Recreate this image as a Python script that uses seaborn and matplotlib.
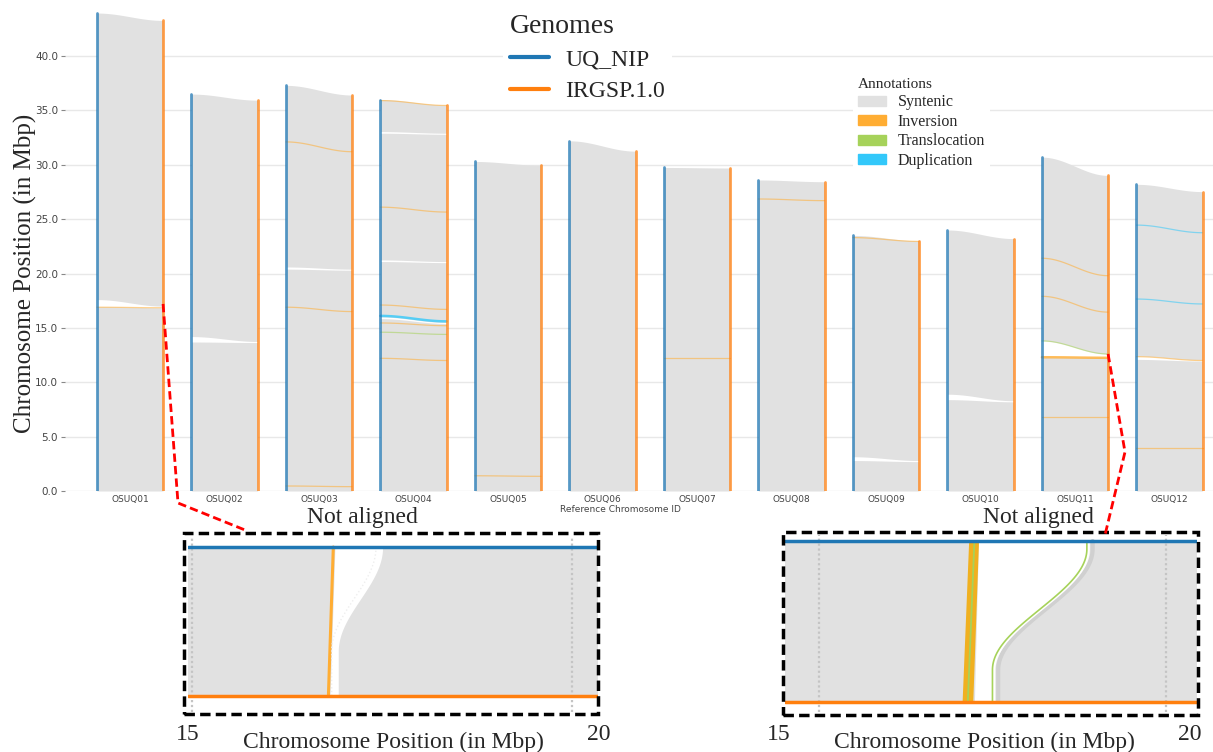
import numpy as np
import pandas as pd
import matplotlib
matplotlib.use("Agg")
import matplotlib.pyplot as plt
from matplotlib.lines import Line2D
from matplotlib.patches import Patch, Rectangle
from matplotlib.transforms import blended_transform_factory
import seaborn as sns

# ---------------------------------------------------------------- data
CHROMS = ["OSUQ01", "OSUQ02", "OSUQ03", "OSUQ04", "OSUQ05", "OSUQ06",
          "OSUQ07", "OSUQ08", "OSUQ09", "OSUQ10", "OSUQ11", "OSUQ12"]
UQ_LEN = [43.95, 36.5, 37.3, 36.0, 30.3, 32.2, 29.75, 28.6, 23.5, 24.0, 30.7, 28.2]
IR_LEN = [43.27, 35.94, 36.41, 35.50, 29.96, 31.25, 29.70, 28.44, 23.01, 23.21, 29.02, 27.53]
Y_TICKS = [0, 5, 10, 15, 20, 25, 30, 35, 40]

# structural variant links: chromosome index, UQ_NIP pos, IRGSP pos (Mbp), type
LINK_CHR = [0, 2, 2, 2, 3, 3, 3, 3, 3, 3, 3, 4, 6, 7, 8,
            10, 10, 10, 10, 10, 11, 11, 11, 11]
LINK_UQ = [16.9, 32.1, 16.9, 0.46, 35.9, 26.1, 17.1, 16.1, 15.45, 14.6, 12.2, 1.4, 12.2, 26.85, 23.3,
           21.4, 17.9, 13.8, 12.3, 6.8, 24.45, 17.65, 12.35, 3.95]
LINK_IR = [16.85, 31.2, 16.5, 0.4, 35.45, 25.65, 16.7, 15.6, 15.2, 14.4, 12.0, 1.35, 12.2, 26.7, 22.95,
           19.8, 16.45, 12.6, 12.25, 6.8, 23.75, 17.2, 12.0, 3.95]
LINK_TYPE = ["Inversion", "Inversion", "Inversion", "Inversion", "Inversion", "Inversion",
             "Inversion", "Duplication", "Inversion", "Translocation", "Inversion", "Inversion",
             "Inversion", "Inversion", "Inversion", "Inversion", "Inversion", "Translocation",
             "Inversion", "Inversion", "Duplication", "Duplication", "Inversion", "Inversion"]

# not aligned regions: chromosome index, UQ_NIP lo/hi, IRGSP lo/hi (Mbp)
GAP_CHR = [0, 1, 2, 3, 3, 3, 8, 9, 10, 11]
GAP_UQ_LO = [16.95, 13.7, 20.4, 32.9, 21.1, 15.85, 2.8, 8.4, 12.3, 12.1]
GAP_UQ_HI = [17.6, 14.2, 20.6, 33.05, 21.25, 16.0, 3.15, 8.9, 13.8, 12.4]
GAP_IR_LO = [16.85, 13.65, 20.3, 32.8, 21.0, 15.4, 2.7, 8.2, 12.3, 11.95]
GAP_IR_HI = [17.0, 13.75, 20.4, 32.9, 21.1, 15.5, 2.8, 8.3, 12.6, 12.05]

# zoomed panels (15-20 Mbp), edges given as (top = UQ_NIP, bottom = IRGSP)
ZOOM_TICKS = [15, 20]
Z1_GAP_LEFT = (16.79, 16.73)
Z1_GAP_RIGHT = (17.37, 16.83)
Z1_INV = (16.77, 16.71)
Z1_GRID = [15.05, 19.68]
Z2_GAP_LEFT = (17.43, 17.38)
Z2_GAP_RIGHT = (18.78, 17.63)
Z2_BAND = (17.31, 17.43, 17.23, 17.36)
Z2_GRID = [15.49, 19.71]

GENOME_COLORS = {"UQ_NIP": "#1f77b4", "IRGSP.1.0": "#ff7f0e"}
ANNOT_COLORS = {"Syntenic": "#e1e1e1", "Inversion": "#ffad33",
                "Translocation": "#a6d25a", "Duplication": "#33c8fa"}
SERIF = "Liberation Serif"

W, H = 1213, 752
HALF = 0.35


def smooth(u):
    u = np.clip(u, 0, 1)
    return 0.5 - 0.5 * np.cos(np.pi * u)


def fig_box(left, top, right, bottom):
    return [left / W, 1 - bottom / H, (right - left) / W, (bottom - top) / H]


sns.set_theme(style="whitegrid")
plt.rcParams["font.family"] = ["DejaVu Sans"]
fig = plt.figure(figsize=(W / 100, H / 100), dpi=100)

# ---------------------------------------------------------------- main plot
ax = fig.add_axes(fig_box(65, 8, 1213, 491))
u = np.linspace(0, 1, 80)

for i in range(len(CHROMS)):
    xs = i - HALF + 2 * HALF * u
    top = UQ_LEN[i] + (IR_LEN[i] - UQ_LEN[i]) * smooth(u)
    ax.fill_between(xs, 0, top, color=ANNOT_COLORS["Syntenic"], lw=0, zorder=1)

for c, lo1, hi1, lo2, hi2 in zip(GAP_CHR, GAP_UQ_LO, GAP_UQ_HI, GAP_IR_LO, GAP_IR_HI):
    xs = c - HALF + 2 * HALF * u
    s = smooth(u)
    ax.fill_between(xs, lo1 + (lo2 - lo1) * s, hi1 + (hi2 - hi1) * s,
                    color="white", lw=0, zorder=2)

for c, y1, y2, kind in zip(LINK_CHR, LINK_UQ, LINK_IR, LINK_TYPE):
    xs = c - HALF + 2 * HALF * u
    strong = (kind == "Duplication" and c == 3) or (c == 10 and abs(y1 - 12.3) < 0.01)
    ax.plot(xs, y1 + (y2 - y1) * smooth(u), color=ANNOT_COLORS[kind],
            lw=1.8 if strong else 0.9, alpha=0.8 if strong else 0.55, zorder=3)

rows = []
for i, c in enumerate(CHROMS):
    rows += [dict(chrom=c, genome="UQ_NIP", x=i - HALF, y=0.0),
             dict(chrom=c, genome="UQ_NIP", x=i - HALF, y=UQ_LEN[i]),
             dict(chrom=c, genome="IRGSP.1.0", x=i + HALF, y=0.0),
             dict(chrom=c, genome="IRGSP.1.0", x=i + HALF, y=IR_LEN[i])]
chrom_df = pd.DataFrame(rows)
sns.lineplot(data=chrom_df, x="x", y="y", hue="genome", units="chrom",
             estimator=None, sort=False, palette=GENOME_COLORS, linewidth=2,
             alpha=0.75, legend=False, ax=ax, zorder=4)

ax.set_xlim(-65 / 94.5, -65 / 94.5 + 1148 / 94.5)
ax.set_ylim(0, 483 / 10.875)
ax.set_yticks(Y_TICKS)
ax.set_yticklabels([f"{t:.1f}" for t in Y_TICKS])
ax.set_xticks(range(len(CHROMS)))
ax.set_xticklabels(CHROMS)
ax.grid(axis="x", visible=False)
ax.grid(axis="y", color="#e8e8e8", lw=1)
ax.set_axisbelow(True)
for sp in ax.spines.values():
    sp.set_visible(False)
ax.tick_params(axis="y", labelsize=7.5, labelcolor="#444444", length=3,
               width=0.8, color="#888888", left=True, pad=2)
ax.tick_params(axis="x", labelsize=6.5, labelcolor="#444444", length=0, pad=3)
ax.set_xlabel("Reference Chromosome ID", fontsize=6.5, color="#444444")
ax.xaxis.set_label_coords((620 - 65) / 1148, -0.028)
ax.set_ylabel("")

fig.text(25 / W, 1 - 273 / H, "Chromosome Position (in Mbp)", rotation=90,
         ha="center", va="center", family=SERIF, fontsize=18)

# legends
g_handles = [Line2D([], [], color=GENOME_COLORS[g], lw=3) for g in GENOME_COLORS]
leg1 = fig.legend(g_handles, list(GENOME_COLORS), title="Genomes", loc="upper left",
                  bbox_to_anchor=(491 / W, 1 + 5 / H), frameon=True, facecolor="white",
                  edgecolor="none", framealpha=1, prop={"family": SERIF, "size": 17},
                  title_fontproperties={"family": SERIF, "size": 20}, alignment="left",
                  handlelength=1.65, handletextpad=0.7, labelspacing=0.42, borderpad=0.3)
a_handles = [Patch(color=ANNOT_COLORS[k]) for k in ANNOT_COLORS]
leg2 = fig.legend(a_handles, list(ANNOT_COLORS), title="Annotations", loc="upper left",
                  bbox_to_anchor=(845 / W, 1 - 65 / H), frameon=True, facecolor="white",
                  edgecolor="none", framealpha=1, prop={"family": SERIF, "size": 11.5},
                  title_fontproperties={"family": SERIF, "size": 11}, alignment="left",
                  handlelength=1.75, handleheight=0.6, handletextpad=0.75,
                  labelspacing=0.22, borderpad=0.3)

# ---------------------------------------------------------------- zoom panels
Z1_BOX = (188, 537, 598, 712)
Z2_BOX = (785, 535, 1197, 712)
ZOOM_ORIGIN = {Z1_BOX: 188, Z2_BOX: 779}


def box_xlim(box):
    left, _, right, _ = box
    x0 = ZOOM_ORIGIN[box]
    return 15 + (left - x0) / 82.1, 15 + (right - x0) / 82.1


def zoom_panel(box, ylim, grid, gap_left, gap_right, shape):
    zax = fig.add_axes(fig_box(*box))
    lo, hi = box_xlim(box)
    zax.set_xlim(lo, hi)
    zax.set_ylim(*ylim)
    t = np.linspace(0, 1, 120)
    yy = 1 - t
    zax.fill_between([lo, hi], 0, 1, color=ANNOT_COLORS["Syntenic"], lw=0, zorder=1)
    for g in grid:
        zax.axvline(g, color="#c4c4c4", lw=1.6, ls=(0, (1, 1.2)), zorder=2)
    xl = gap_left[0] + (gap_left[1] - gap_left[0]) * t
    xr = gap_right[0] + (gap_right[1] - gap_right[0]) * shape(t)
    zax.fill_betweenx(yy, xl, xr, color="white", lw=0, zorder=3)
    return zax, t, yy, xr


z1, t1, y1, xr1 = zoom_panel(Z1_BOX, (-16 / 149, 1 + 10 / 149), Z1_GRID, Z1_GAP_LEFT,
                             Z1_GAP_RIGHT, lambda t: smooth(t / 0.7))
z1.plot(Z1_INV[0] + (Z1_INV[1] - Z1_INV[0]) * t1, y1, color=ANNOT_COLORS["Inversion"],
        lw=2.2, zorder=4)
z1.plot(xr1 - 0.08, y1, color="#eeeeee", lw=1, ls=":", zorder=4)

z2, t2, y2, xr2 = zoom_panel(Z2_BOX, (-10 / 161, 1 + 6 / 161), Z2_GRID, Z2_GAP_LEFT,
                             Z2_GAP_RIGHT, lambda t: smooth((t - 0.05) / 0.75))
bl = Z2_BAND[0] + (Z2_BAND[2] - Z2_BAND[0]) * t2
br = Z2_BAND[1] + (Z2_BAND[3] - Z2_BAND[1]) * t2
z2.fill_betweenx(y2, bl, br, color="#f0b020", lw=0, zorder=4)
z2.plot(bl + 0.07, y2, color=ANNOT_COLORS["Translocation"], lw=1.3, zorder=5)
z2.plot(xr2 + 0.04, y2, color="#d0d0d0", lw=3, zorder=2.5)
z2.plot(xr2 - 0.03, y2, color=ANNOT_COLORS["Translocation"], lw=1.2, zorder=5)

for zax, label_x in [(z1, 362), (z2, 1038)]:
    lo, hi = zax.get_xlim()
    zd = pd.DataFrame({"x": [lo, hi, lo, hi], "y": [1, 1, 0, 0],
                       "genome": ["UQ_NIP", "UQ_NIP", "IRGSP.1.0", "IRGSP.1.0"]})
    sns.lineplot(data=zd, x="x", y="y", hue="genome", palette=GENOME_COLORS,
                 estimator=None, sort=False, linewidth=2.5, legend=False, ax=zax, zorder=6)
    zax.axis("off")
    tr = blended_transform_factory(zax.transData, fig.transFigure)
    for tk in ZOOM_TICKS:
        fig.text(tk, 1 - 735 / H, str(tk), transform=tr, ha="center", va="center",
                 family=SERIF, fontsize=17)
    mid = 0.5 * (ZOOM_TICKS[0] + ZOOM_TICKS[1])
    fig.text(mid, 1 - 742 / H, "Chromosome Position (in Mbp)", transform=tr,
             ha="center", va="center", family=SERIF, fontsize=17)
    fig.text(label_x / W, 1 - 517 / H, "Not aligned", ha="center",
             va="center", family=SERIF, fontsize=17)

for left, top, right, bottom in [(184, 533, 598, 714), (783, 532, 1198, 715)]:
    fig.patches.append(Rectangle((left / W, 1 - bottom / H), (right - left) / W,
                                 (bottom - top) / H, transform=fig.transFigure,
                                 fill=False, ec="black", lw=2.5, ls=(0, (3, 1.5))))

# red connectors from the main chart to the zoom panels
fig.canvas.draw()
to_px = lambda x, y: ax.transData.transform((x, y))
for start, mids in [(to_px(0 + HALF, 17.2), [(178, 503), (245, 530)]),
                    (to_px(10 + HALF, 12.6), [(1125, 452), (1105, 535)])]:
    px = [start[0]] + [m[0] for m in mids]
    py = [start[1]] + [H - m[1] for m in mids]
    fig.lines.append(Line2D(np.array(px) / W, np.array(py) / H, transform=fig.transFigure,
                            color="red", lw=2, ls=(0, (3, 1.5))))

fig.savefig("out.png", dpi=100)
